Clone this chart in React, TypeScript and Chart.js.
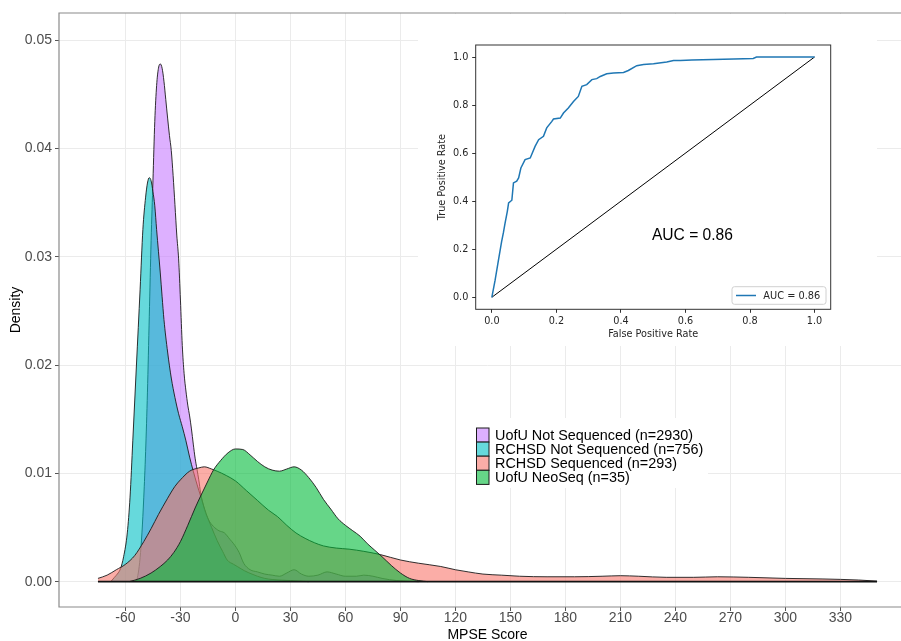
import React, { useEffect, useRef } from "react";
import { Chart, registerables } from "chart.js";

Chart.register(...registerables);

// ---------- Main density chart data ----------
const seriesNames = [
  "UofU Not Sequenced (n=2930)",
  "RCHSD Not Sequenced (n=756)",
  "RCHSD Sequenced (n=293)",
  "UofU NeoSeq (n=35)",
];
const seriesColors = ["#C77CFF", "#00BFC4", "#F8766D", "#00BA38"];

// [MPSE score, density]
const uofuNotSequenced: [number, number][] = [
  [-54, 0], [-53, 0.0008], [-52, 0.0022], [-51, 0.0045], [-50, 0.0078], [-49, 0.012],
  [-48, 0.0175], [-47, 0.0245], [-46, 0.0315], [-45, 0.037], [-44, 0.0425], [-43, 0.0458],
  [-42, 0.0474], [-41, 0.0478], [-40, 0.0474], [-39, 0.0462], [-38, 0.0445], [-37, 0.0428],
  [-36, 0.0412], [-35, 0.0398], [-34, 0.0375], [-33, 0.0348], [-32, 0.032], [-31, 0.0298],
  [-30, 0.026], [-29, 0.0218], [-28, 0.0192], [-27, 0.0176], [-26, 0.0163], [-25, 0.0153],
  [-24, 0.0141], [-23, 0.0127], [-22, 0.0114], [-21, 0.0104], [-20, 0.0094], [-19, 0.0082],
  [-18, 0.0074], [-17, 0.0067], [-15, 0.0058], [-12, 0.0051], [-9, 0.0047], [-6, 0.0045],
  [-3, 0.0039], [-1, 0.0035], [2, 0.0027], [4.5, 0.0017], [8, 0.0011], [12, 0.0009],
  [16, 0.0007], [20, 0.0006], [24, 0.0005], [28, 0.0008], [32, 0.0011], [36, 0.0007],
  [40, 0.0005], [45, 0.0006], [50, 0.0009], [55, 0.0007], [60, 0.0005], [66, 0.0005],
  [70, 0.0006], [75, 0.0005], [80, 0.0003], [88, 0.0001], [100, 0],
];
const rchsdNotSequenced: [number, number][] = [
  [-68, 0], [-66, 0.0004], [-64, 0.0008], [-62.7, 0.0012], [-61, 0.0023], [-59, 0.0045],
  [-57.5, 0.0078], [-56, 0.013], [-54, 0.02], [-52, 0.027], [-50.5, 0.0325], [-49, 0.0355],
  [-48, 0.0368], [-47, 0.0373], [-46, 0.037], [-45, 0.036], [-44, 0.0347], [-43, 0.0325],
  [-42, 0.0305], [-41, 0.0285], [-40, 0.0263], [-39, 0.0242], [-37, 0.0212], [-35, 0.0188],
  [-33, 0.017], [-31, 0.0155], [-29, 0.0143], [-27, 0.013], [-25, 0.0115], [-23, 0.0102],
  [-21, 0.009], [-19, 0.0079], [-16, 0.0063], [-13, 0.005], [-10, 0.0038], [-7, 0.0028],
  [-4.5, 0.002], [-1, 0.0016], [1, 0.0014], [5, 0.001], [9, 0.0007], [12, 0.0005],
  [16, 0.0003], [20, 0.0002], [30, 0.0001], [40, 0],
];
const rchsdSequenced: [number, number][] = [
  [-75, 0.0003], [-70, 0.0006], [-65, 0.0011], [-60, 0.0016], [-55, 0.0024], [-50, 0.0037],
  [-46, 0.0049], [-42, 0.0062], [-37, 0.0077], [-33, 0.0088], [-30, 0.0094], [-25, 0.0102],
  [-20, 0.0105], [-17, 0.0106], [-13, 0.0104], [-10, 0.0102], [-5, 0.0098], [0, 0.0093],
  [6, 0.0084], [12, 0.0075], [18, 0.0066], [23, 0.006], [28, 0.0052], [33, 0.0045],
  [38, 0.004], [43, 0.0036], [48, 0.0033], [55, 0.0031], [62, 0.003], [70, 0.0028],
  [79, 0.0025], [90, 0.002], [100, 0.0017], [112, 0.0014], [120, 0.0011], [127, 0.0009],
  [135, 0.0007], [145, 0.0006], [155, 0.0005], [170, 0.00045], [185, 0.00045], [200, 0.0005],
  [210, 0.00055], [220, 0.0005], [235, 0.0004], [250, 0.0004], [263, 0.00045], [280, 0.0004],
  [300, 0.0003], [320, 0.00025], [340, 0.00015], [350, 0.00005],
];
const uofuNeoSeq: [number, number][] = [
  [-58, 0], [-52, 0.0003], [-46, 0.0008], [-41, 0.0014], [-37, 0.002], [-33.6, 0.0027],
  [-30, 0.0037], [-26, 0.0052], [-22, 0.0068], [-19, 0.0079], [-15, 0.0093], [-12, 0.0103],
  [-8, 0.0112], [-4, 0.0119], [0, 0.01225], [4, 0.0122], [8, 0.0117], [12, 0.0111],
  [16, 0.0106], [20, 0.0103], [24, 0.0102], [28, 0.0104], [32, 0.0106], [36, 0.0103],
  [40, 0.0096], [44, 0.0087], [48, 0.0076], [52, 0.0067], [56, 0.0058], [60, 0.0052],
  [64, 0.0047], [68, 0.0042], [72, 0.0035], [76, 0.0029], [80, 0.0023], [85, 0.0015],
  [90, 0.0008], [95, 0.0003], [100, 0.0001], [105, 0],
];
const allSeries = [uofuNotSequenced, rchsdNotSequenced, rchsdSequenced, uofuNeoSeq];

const xTicks = [-60, -30, 0, 30, 60, 90, 120, 150, 180, 210, 240, 270, 300, 330];
const yTicks = [0, 0.01, 0.02, 0.03, 0.04, 0.05];
const yTickLabels = ["0.00", "0.01", "0.02", "0.03", "0.04", "0.05"];
const xLimits = [-96.25, 371.25];
const yLimits = [-0.00234, 0.0525];
const xTitle = "MPSE Score";
const yTitle = "Density";

// ---------- Inset ROC data ----------
const rocFpr = [
  0, 0.01, 0.02, 0.03, 0.036, 0.041, 0.048, 0.052, 0.062, 0.067, 0.077, 0.083, 0.09, 0.103,
  0.119, 0.134, 0.145, 0.16, 0.17, 0.186, 0.191, 0.212, 0.222, 0.237, 0.253, 0.268, 0.279,
  0.294, 0.31, 0.325, 0.336, 0.356, 0.377, 0.408, 0.423, 0.449, 0.47, 0.501, 0.542, 0.563,
  0.584, 0.62, 0.686, 0.75, 0.81, 0.82, 0.9, 1.0,
];
const rocTpr = [
  0, 0.07, 0.15, 0.23, 0.27, 0.309, 0.358, 0.393, 0.404, 0.476, 0.483, 0.497, 0.538, 0.573,
  0.58, 0.628, 0.656, 0.67, 0.705, 0.732, 0.742, 0.746, 0.767, 0.788, 0.815, 0.836, 0.878,
  0.885, 0.906, 0.91, 0.919, 0.93, 0.933, 0.936, 0.944, 0.964, 0.969, 0.972, 0.979, 0.985,
  0.986, 0.988, 0.99, 0.992, 0.994, 1.0, 1.0, 1.0,
];
const chanceLine = [0, 1];
const rocTicks = [0, 0.2, 0.4, 0.6, 0.8, 1.0];
const rocTickLabels = ["0.0", "0.2", "0.4", "0.6", "0.8", "1.0"];
const rocLimits = [-0.05, 1.05];
const aucValue = 0.86;
const aucLabel = "AUC = " + aucValue.toFixed(2);
const aucTextPos = [0.496, 0.257];

const SANS = "'Liberation Sans', Arial, Helvetica, sans-serif";
const DEJAVU = "'DejaVu Sans', sans-serif";

function rgba(hex: string, a: number) {
  const n = parseInt(hex.slice(1), 16);
  return `rgba(${(n >> 16) & 255},${(n >> 8) & 255},${n & 255},${a})`;
}

export default function App() {
  const mainRef = useRef<HTMLCanvasElement>(null);
  const insetRef = useRef<HTMLCanvasElement>(null);

  useEffect(() => {
    if (!mainRef.current || !insetRef.current) return;

    const datasets: any[] = allSeries.map((s, i) => ({
      label: seriesNames[i],
      data: s.map(([x, y]) => ({ x, y })),
      backgroundColor: rgba(seriesColors[i], 0.6),
      borderColor: "#1a1a1a",
      borderWidth: 0.9,
      fill: "origin",
      pointRadius: 0,
      tension: 0.4,
      cubicInterpolationMode: "monotone",
      order: 10 - i,
    }));
    datasets.push({
      label: "baseline",
      data: [
        { x: rchsdSequenced[0][0], y: 0 },
        { x: rchsdSequenced[rchsdSequenced.length - 1][0], y: 0 },
      ],
      borderColor: "#111",
      borderWidth: 1.6,
      fill: false,
      pointRadius: 0,
      order: 0,
    });

    const mainDecor = {
      id: "mainDecor",
      afterDatasetsDraw(chart: any) {
        const ctx = chart.ctx;
        ctx.save();
        ctx.fillStyle = "#ffffff";
        ctx.fillRect(472, 418, 236, 70);
        const rowH = 14.1;
        seriesNames.forEach((name, i) => {
          const y0 = 428 + i * rowH;
          ctx.fillStyle = "#ffffff";
          ctx.fillRect(476.5, y0, 12.5, rowH);
          ctx.fillStyle = rgba(seriesColors[i], 0.6);
          ctx.fillRect(476.5, y0, 12.5, rowH);
          ctx.strokeStyle = "#1a1a1a";
          ctx.lineWidth = 1;
          ctx.strokeRect(476.5, y0, 12.5, rowH);
          ctx.fillStyle = "#000";
          ctx.font = `14.4px ${SANS}`;
          ctx.textBaseline = "middle";
          ctx.textAlign = "left";
          ctx.fillText(name, 495, y0 + rowH / 2 + 0.5);
        });
        ctx.restore();
      },
      afterDraw(chart: any) {
        const { left, right, top, bottom } = chart.chartArea;
        const ctx = chart.ctx;
        ctx.save();
        ctx.strokeStyle = "#8a8a8a";
        ctx.lineWidth = 1.2;
        ctx.beginPath();
        ctx.moveTo(right, top);
        ctx.lineTo(left, top);
        ctx.lineTo(left, bottom);
        ctx.lineTo(right, bottom);
        ctx.stroke();
        ctx.restore();
      },
    };

    const mainChart = new Chart(mainRef.current, {
      type: "line",
      data: { datasets },
      plugins: [mainDecor],
      options: {
        animation: false,
        responsive: true,
        maintainAspectRatio: false,
        layout: { padding: { top: 13, right: 1, left: 0, bottom: 0 } },
        plugins: { legend: { display: false }, tooltip: { enabled: false } },
        scales: {
          x: {
            type: "linear",
            min: xLimits[0],
            max: xLimits[1],
            afterFit: (s: any) => {
              s.height = 43;
            },
            afterBuildTicks: (s: any) => {
              s.ticks = xTicks.map((v) => ({ value: v }));
            },
            ticks: {
              autoSkip: false,
              maxRotation: 0,
              padding: -1,
              color: "#4D4D4D",
              font: { family: SANS, size: 14 },
              callback: (v: any) => String(v),
            },
            grid: { color: "#ebebeb", lineWidth: 1, tickColor: "#555", tickLength: 4 },
            border: { display: false },
            title: {
              display: true,
              text: xTitle,
              color: "#000",
              font: { family: SANS, size: 14 },
              padding: { top: 0, bottom: 6.6 },
            },
          },
          y: {
            type: "linear",
            min: yLimits[0],
            max: yLimits[1],
            afterFit: (s: any) => {
              s.width = 59;
            },
            afterBuildTicks: (s: any) => {
              s.ticks = yTicks.map((v) => ({ value: v }));
            },
            ticks: {
              autoSkip: false,
              padding: 3,
              color: "#4D4D4D",
              font: { family: SANS, size: 14 },
              callback: (v: any) => yTickLabels[yTicks.indexOf(v)] ?? "",
            },
            grid: { color: "#ebebeb", lineWidth: 1, tickColor: "#555", tickLength: 4 },
            border: { display: false },
            title: {
              display: true,
              text: yTitle,
              color: "#000",
              font: { family: SANS, size: 14 },
              padding: { top: 7.6, bottom: 0 },
            },
          },
        },
      } as any,
    });

    const insetDecor = {
      id: "insetDecor",
      afterDraw(chart: any) {
        const { left, right, top, bottom } = chart.chartArea;
        const ctx = chart.ctx;
        ctx.save();
        ctx.strokeStyle = "#333";
        ctx.lineWidth = 1;
        ctx.strokeRect(left, top, right - left, bottom - top);
        // AUC annotation
        const xs = chart.scales.x;
        const ys = chart.scales.y;
        ctx.fillStyle = "#000";
        ctx.font = `15.6px ${SANS}`;
        ctx.textBaseline = "middle";
        ctx.textAlign = "left";
        ctx.fillText(aucLabel, xs.getPixelForValue(aucTextPos[0]), ys.getPixelForValue(aucTextPos[1]));
        // legend
        const bw = 94;
        const bh = 17.6;
        const bx = right - 4.7 - bw;
        const by = bottom - 5 - bh;
        ctx.beginPath();
        const r = 2.5;
        ctx.moveTo(bx + r, by);
        ctx.lineTo(bx + bw - r, by);
        ctx.quadraticCurveTo(bx + bw, by, bx + bw, by + r);
        ctx.lineTo(bx + bw, by + bh - r);
        ctx.quadraticCurveTo(bx + bw, by + bh, bx + bw - r, by + bh);
        ctx.lineTo(bx + r, by + bh);
        ctx.quadraticCurveTo(bx, by + bh, bx, by + bh - r);
        ctx.lineTo(bx, by + r);
        ctx.quadraticCurveTo(bx, by, bx + r, by);
        ctx.closePath();
        ctx.fillStyle = "rgba(255,255,255,0.8)";
        ctx.fill();
        ctx.strokeStyle = "#d0d0d0";
        ctx.lineWidth = 1;
        ctx.stroke();
        ctx.strokeStyle = "#1f77b4";
        ctx.lineWidth = 1.5;
        ctx.beginPath();
        ctx.moveTo(bx + 4, by + bh / 2);
        ctx.lineTo(bx + 24, by + bh / 2);
        ctx.stroke();
        ctx.fillStyle = "#262626";
        ctx.font = `9.8px ${DEJAVU}`;
        ctx.fillText(aucLabel, bx + 31.3, by + bh / 2 + 0.5);
        ctx.restore();
      },
    };

    const insetChart = new Chart(insetRef.current, {
      type: "line",
      data: {
        datasets: [
          {
            label: aucLabel,
            data: rocFpr.map((x, i) => ({ x, y: rocTpr[i] })),
            borderColor: "#1f77b4",
            borderWidth: 1.5,
            pointRadius: 0,
            tension: 0,
            fill: false,
            order: 0,
          },
          {
            label: "chance",
            data: chanceLine.map((v) => ({ x: v, y: v })),
            borderColor: "#000",
            borderWidth: 1,
            pointRadius: 0,
            fill: false,
            order: 1,
          },
        ],
      },
      plugins: [insetDecor],
      options: {
        animation: false,
        responsive: true,
        maintainAspectRatio: false,
        layout: { padding: { top: 31, right: 46.3, left: 0, bottom: 0 } },
        plugins: { legend: { display: false }, tooltip: { enabled: false } },
        scales: {
          x: {
            type: "linear",
            min: rocLimits[0],
            max: rocLimits[1],
            afterFit: (s: any) => {
              s.height = 36.7;
            },
            afterBuildTicks: (s: any) => {
              s.ticks = rocTicks.map((v) => ({ value: v }));
            },
            ticks: {
              autoSkip: false,
              maxRotation: 0,
              padding: 2.4,
              color: "#262626",
              font: { family: DEJAVU, size: 9.7 },
              callback: (v: any) => rocTickLabels[rocTicks.indexOf(v)] ?? "",
            },
            grid: { drawOnChartArea: false, tickColor: "#333", tickLength: 3.5 },
            border: { display: false },
            title: {
              display: true,
              text: "False Positive Rate",
              color: "#262626",
              font: { family: DEJAVU, size: 9.7 },
              padding: { top: 0, bottom: 5.9 },
            },
          },
          y: {
            type: "linear",
            min: rocLimits[0],
            max: rocLimits[1],
            afterFit: (s: any) => {
              s.width = 57.7;
            },
            afterBuildTicks: (s: any) => {
              s.ticks = rocTicks.map((v) => ({ value: v }));
            },
            ticks: {
              autoSkip: false,
              padding: 3.9,
              color: "#262626",
              font: { family: DEJAVU, size: 9.7 },
              callback: (v: any) => rocTickLabels[rocTicks.indexOf(v)] ?? "",
            },
            grid: { drawOnChartArea: false, tickColor: "#333", tickLength: 3.5 },
            border: { display: false },
            title: {
              display: true,
              text: "True Positive Rate",
              color: "#262626",
              font: { family: DEJAVU, size: 9.7 },
              padding: { top: 18.9, bottom: 0 },
            },
          },
        },
      } as any,
    });

    return () => {
      mainChart.destroy();
      insetChart.destroy();
    };
  }, []);

  return (
    <div
      style={{
        position: "fixed",
        left: 0,
        top: 0,
        width: 901,
        height: 641,
        overflow: "hidden",
        background: "#fff",
      }}
    >
      <div style={{ position: "absolute", left: 0, top: 0, width: 917, height: 650 }}>
        <canvas ref={mainRef} />
      </div>
      <div
        style={{
          position: "absolute",
          left: 418,
          top: 14,
          width: 459,
          height: 332,
          background: "#fff",
        }}
      >
        <canvas ref={insetRef} />
      </div>
    </div>
  );
}
